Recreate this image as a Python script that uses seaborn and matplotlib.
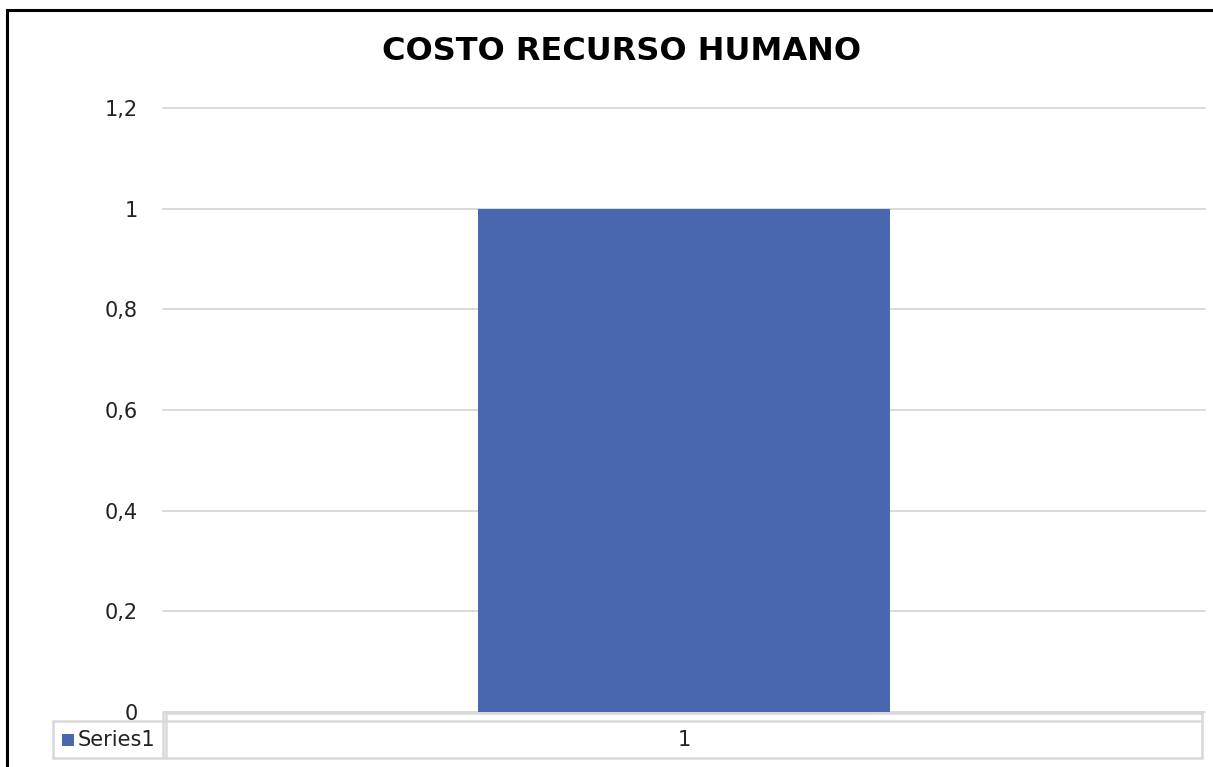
import matplotlib
matplotlib.use("Agg")
import matplotlib.pyplot as plt
from matplotlib.patches import Rectangle
from matplotlib.lines import Line2D
from matplotlib.ticker import FuncFormatter
import seaborn as sns

title = "COSTO RECURSO HUMANO"
categories = ["1"]
values = [1]
series_name = "Series1"
y_ticks = [0, 0.2, 0.4, 0.6, 0.8, 1.0, 1.2]

bar_color = "#4967AF"
grid_color = "#D9D9D9"

sns.set_theme(style="white")
plt.rcParams["font.family"] = ["DejaVu Sans"]

W, H = 1213, 767
fig = plt.figure(figsize=(W / 100, H / 100), dpi=100)
ax = fig.add_axes([163 / W, 1 - 712 / H, (1205 - 163) / W, (712 - 108) / H])

sns.barplot(x=categories, y=values, color=bar_color, saturation=1,
            width=0.396, linewidth=0, ax=ax, zorder=3)

ax.set_xlim(-0.5, 0.5)
ax.set_ylim(0, 1.2)
ax.set_yticks(y_ticks)
ax.yaxis.set_major_formatter(FuncFormatter(lambda v, p: f"{v:g}".replace(".", ",")))
ax.tick_params(axis="y", length=0, pad=18, labelsize=15, labelcolor="#222222")
ax.set_xticks([])
ax.set_xlabel("")
ax.set_ylabel("")
ax.grid(axis="y", color=grid_color, linewidth=1.4, zorder=0)
ax.set_axisbelow(True)
for gl in ax.get_ygridlines():
    gl.set_clip_on(False)
for s in ax.spines.values():
    s.set_visible(False)

fig.text(622 / W, 1 - 52 / H, title, ha="center", va="center",
         fontsize=23, fontweight="bold", color="black")

# data table below the axis
def fx(px):
    return px / W

def fy(py):
    return 1 - py / H

lines = [
    ((165, 1202), (713, 713)),
    ((53, 1202), (721, 721)),
    ((53, 1202), (758, 758)),
    ((53, 53), (721, 758)),
    ((163, 163), (713, 758)),
    ((166, 166), (713, 758)),
    ((1202, 1202), (713, 758)),
]
for xs, ys in lines:
    fig.add_artist(Line2D([fx(xs[0]), fx(xs[1])], [fy(ys[0]), fy(ys[1])],
                          transform=fig.transFigure, color=grid_color, linewidth=1.8))

fig.add_artist(Rectangle((fx(62), fy(746)), 12 / W, 12 / H, transform=fig.transFigure,
                         facecolor=bar_color, edgecolor="none"))
fig.text(fx(78), fy(740), series_name, ha="left", va="center", fontsize=15, color="#222222")
for i, v in enumerate(values):
    fig.text(fx(684), fy(740), f"{v:g}", ha="center", va="center", fontsize=15, color="#222222")

# outer chart border
fig.add_artist(Rectangle((fx(7), -0.1), 1.2, fy(10) + 0.1, transform=fig.transFigure,
                         fill=False, edgecolor="black", linewidth=2.2))

fig.savefig("out.png", dpi=100)
